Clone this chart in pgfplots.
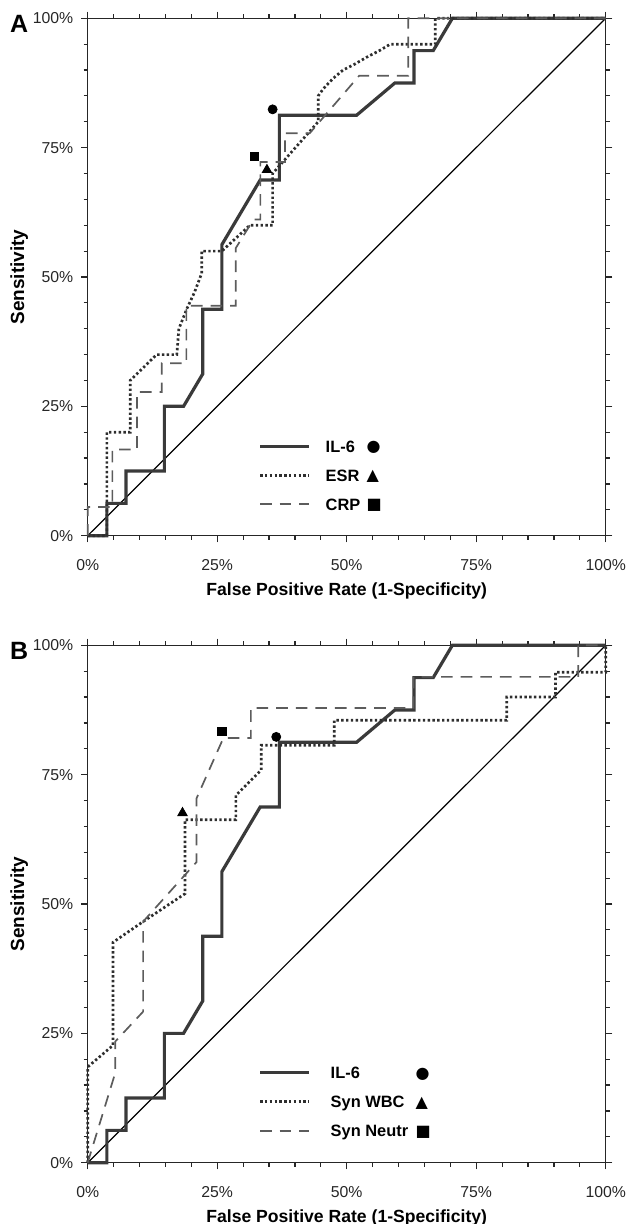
\documentclass[border=0pt]{standalone}
\usepackage{fontspec}
\setmainfont{Liberation Sans}
\newfontfamily\symfont{DejaVu Sans}
\usepackage{pgfplots}
\pgfplotsset{compat=1.18}

\definecolor{solidgray}{HTML}{3A3A3A}
\definecolor{dotgray}{HTML}{2E2E2E}
\definecolor{dashgray}{HTML}{5C5C5C}

\pgfplotsset{
  rocaxis/.style={
    scale only axis, width=259pt, height=258.7pt,
    xmin=0, xmax=100, ymin=0, ymax=100,
    clip=false,
    xtick={0,25,50,75,100}, ytick={0,25,50,75,100},
    xticklabels={0\%,25\%,50\%,75\%,100\%},
    yticklabels={0\%,25\%,50\%,75\%,100\%},
    minor tick num=4,
    tick align=outside,
    major tick length=3.3pt, minor tick length=2pt,
    axis line style={line width=0.6pt, black!85},
    every tick/.style={line width=0.6pt, black!85},
    tick label style={font=\fontsize{7.9}{9}\selectfont, text=black!85},
    xticklabel style={yshift=-5pt},
    yticklabel style={xshift=-0.4pt},
    every axis x label/.style={at={(axis description cs:0.5,0)}, yshift=-27.6pt, anchor=center,
      font=\bfseries\fontsize{8.8}{10}\selectfont},
    every axis y label/.style={at={(axis description cs:0,0.5)}, xshift=-34.3pt, rotate=90, anchor=center,
      font=\bfseries\fontsize{9.5}{11}\selectfont},
    xlabel={False Positive Rate (1-Specificity)},
    ylabel={Sensitivity},
    legend cell align=left,
    legend image code/.code={\draw[#1] (0pt,0pt) -- (24.5pt,0pt);},
    legend style={draw=none, fill=none, inner sep=0pt, row sep=8.5pt,
      nodes={inner sep=0pt, text height=6pt, text depth=0pt,
        font=\bfseries\fontsize{8.2}{9}\selectfont}},
  },
  il6/.style={solidgray, line width=1.6pt},
  dotcurve/.style={dotgray, line width=1.35pt, dash pattern=on 1.2pt off 1.2pt},
  dashcurve/.style={dashgray, line width=0.85pt, dash pattern=on 5.8pt off 4pt},
  refline/.style={black, line width=0.6pt, forget plot},
}
\newcommand{\sym}[1]{\raisebox{0.3pt}{\symfont\fontsize{8}{9}\selectfont #1}}

\begin{document}
\begin{tikzpicture}
\path[use as bounding box] (-43.85pt,-344.15pt) rectangle (269.65pt,267.85pt);

% ---- panel A
\begin{axis}[rocaxis, name=A, at={(0,0)}, anchor=south west,
  legend style={at={(axis cs:32.9,11.7)}, anchor=west, column sep=7.5pt}]
\addplot[refline] coordinates {(0,0) (100,100)};
\addplot[il6] coordinates {
  (0,0) (3.7,0) (3.7,6.25) (7.4,6.25) (7.4,12.5) (14.8,12.5) (14.8,25) (18.5,25)
  (22.2,31.25) (22.2,43.75) (25.9,43.75) (25.9,56.25) (33.3,68.75) (37.0,68.75)
  (37.0,81.25) (51.9,81.25) (59.3,87.5) (63.0,87.5) (63.0,93.75) (66.7,93.75)
  (70.4,100) (100,100)};
\addlegendentry{\makebox[20.5pt][l]{IL-6}\sym{●}}
\addplot[dotcurve] coordinates {
  (0,0) (3.7,0) (3.7,20) (8.2,20) (8.2,30) (13.3,35) (17.2,35) (17.6,40) (19.2,44)
  (20.6,47) (22.0,50.7) (22.0,55) (25.9,55) (31.3,60) (35.7,60) (35.7,70) (44.5,80)
  (44.5,85) (45.5,86.4) (47.4,88.4) (49.3,90) (51.3,91) (53.9,92.5) (56.4,93.8)
  (58.4,95) (67.1,95) (67.1,100) (100,100)};
\addlegendentry{\makebox[20.5pt][l]{ESR}\sym{▲}}
\addplot[dashcurve] coordinates {
  (0,0) (0,5.56) (4.76,5.56) (4.76,16.67) (9.52,16.67) (9.52,27.78) (14.29,27.78)
  (14.29,33.33) (19.05,33.33) (19.05,44.44) (28.57,44.44) (28.57,55.56) (32.0,61.11)
  (33.33,61.11) (33.33,72.22) (38.1,72.22) (38.1,77.78) (42.86,77.78) (52.4,88.89)
  (61.9,88.89) (61.9,100) (100,100)};
\addlegendentry{\makebox[20.5pt][l]{CRP}\sym{■}}
\addplot[only marks, mark=*, mark size=2.25pt, black, forget plot] coordinates {(35.7,82.4)};
\addplot[only marks, mark=triangle*, mark size=2.7pt, black, forget plot] coordinates {(34.6,70.7)};
\addplot[only marks, mark=square*, mark size=2.1pt, black, forget plot] coordinates {(32.2,73.3)};
\end{axis}
\node[font=\bfseries\fontsize{12.5}{14}\selectfont, xshift=-34.3pt, yshift=-2.6pt] at (A.north west) {A};

% ---- panel B
\begin{axis}[rocaxis, name=B, at={(0,-313.5pt)}, anchor=south west,
  legend style={at={(axis cs:32.9,11.8)}, anchor=west, column sep=10pt}]
\addplot[refline] coordinates {(0,0) (100,100)};
\addplot[il6] coordinates {
  (0,0) (3.7,0) (3.7,6.25) (7.4,6.25) (7.4,12.5) (14.8,12.5) (14.8,25) (18.5,25)
  (22.2,31.25) (22.2,43.75) (25.9,43.75) (25.9,56.25) (33.3,68.75) (37.0,68.75)
  (37.0,81.25) (51.9,81.25) (59.3,87.5) (63.0,87.5) (63.0,93.75) (66.7,93.75)
  (70.4,100) (100,100)};
\addlegendentry{\makebox[42.5pt][l]{IL-6}\sym{●}}
\addplot[dotcurve] coordinates {
  (0,0) (0,18.5) (4.9,22.7) (4.9,42.6) (10.7,46.6) (18.8,52.0) (18.8,66.3) (28.6,66.3)
  (28.6,71.0) (33.5,75.9) (33.5,80.7) (47.6,80.7) (47.6,85.5) (80.9,85.5) (80.9,90.0)
  (90.3,90.0) (90.3,94.8) (100,94.8) (100,100)};
\addlegendentry{\makebox[42.5pt][l]{Syn WBC}\sym{▲}}
\addplot[dashcurve] coordinates {
  (0,0) (5.3,17.3) (5.3,23.4) (10.7,29.2) (10.7,46.6) (21.0,58.1) (21.0,70.4)
  (26.2,82.1) (31.5,82.1) (31.5,87.9) (62.9,87.9) (62.9,93.9) (94.7,93.9) (94.7,100)
  (100,100)};
\addlegendentry{\makebox[42.5pt][l]{Syn Neutr}\sym{■}}
\addplot[only marks, mark=*, mark size=2.25pt, black, forget plot] coordinates {(36.4,82.3)};
\addplot[only marks, mark=triangle*, mark size=2.7pt, black, forget plot] coordinates {(18.3,67.6)};
\addplot[only marks, mark=square*, mark size=2.1pt, black, forget plot] coordinates {(25.9,83.4)};
\end{axis}
\node[font=\bfseries\fontsize{12.5}{14}\selectfont, xshift=-34.3pt, yshift=-2.6pt] at (B.north west) {B};
\end{tikzpicture}
\end{document}
